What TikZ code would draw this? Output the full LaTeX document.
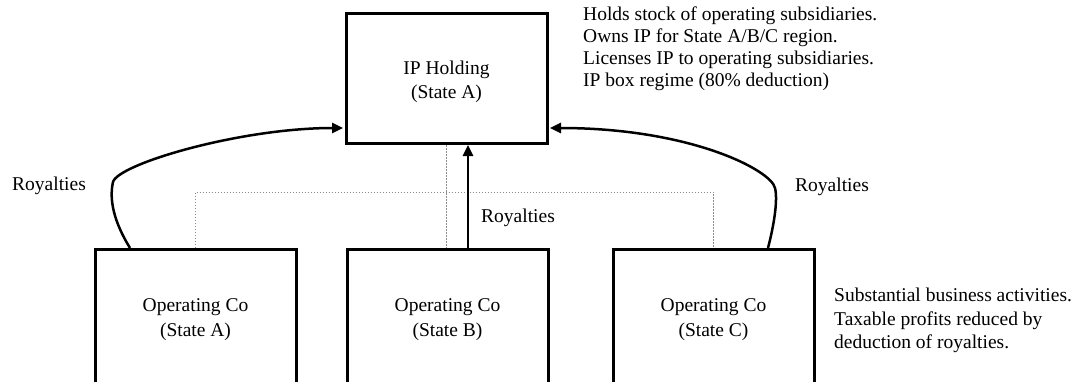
\documentclass[tikz,border=0pt]{standalone}
\usepackage{fontspec}
\setmainfont{Liberation Serif}
\usetikzlibrary{arrows.meta}
\begin{document}
\begin{tikzpicture}[x=1pt,y=-1pt,
  box/.style={draw, line width=3pt, minimum width=201pt, inner sep=0pt},
  topbox/.style={box, minimum height=130pt},
  opbox/.style={box, minimum height=137.5pt},
  boxtext/.style={inner sep=0pt, align=center, font=\fontsize{19.5}{24.5}\selectfont},
  note/.style={inner sep=0pt, align=left, font=\fontsize{19.5}{21.7}\selectfont},
  lbl/.style={inner sep=0pt, font=\fontsize{19.5}{21}\selectfont},
  arr/.style={line width=2.5pt, -{Triangle[length=11pt,width=10pt]}},
  dot/.style={draw=black!45, line width=0.8pt, dash pattern=on 1.5pt off 1.5pt}
]
\useasboundingbox (0,0) rectangle (1076,381);
\clip (0,0) rectangle (1076,381);

\node[topbox] (top) at (446.5,78.5) {};
\node[opbox] (A) at (195.5,318.25) {};
\node[opbox] (B) at (447.5,318.25) {};
\node[opbox] (C) at (713.5,318.25) {};

\node[boxtext] (topt) at ([yshift=-3.5pt]top.center) {IP Holding\\(State A)};
\node[boxtext] (At) at ([yshift=-1.5pt]A.center) {Operating Co\\(State A)};
\node[boxtext] (Bt) at ([yshift=-1.5pt]B.center) {Operating Co\\(State B)};
\node[boxtext] (Ct) at ([yshift=-1.5pt]C.center) {Operating Co\\(State C)};

\coordinate (bus) at (0,192);
\draw[dot] (A.north) -- (A.north |- bus) -- (C.north |- bus) -- (C.north);
\draw[dot] (top.south) -- (top.south |- B.north);

\draw[arr] ([xshift=20.5pt]B.north) -- ([xshift=20.5pt]B.north |- top.south);
\draw[arr] ([xshift=-65.5pt]A.north) .. controls (114,222) and (109,200) .. (113,182)
  .. controls (118,164) and (240,128) .. ([xshift=-1.5pt,yshift=-49.5pt]top.west);
\draw[arr] ([xshift=54.5pt]C.north) .. controls (774,225) and (778,200) .. (775,188)
  .. controls (771,170) and (690,128) .. ([xshift=1.5pt,yshift=-49.5pt]top.east);

\node[lbl, anchor=base west] (rl) at (12,190) {Royalties};
\node[lbl, anchor=base west] (rr) at (795,191) {Royalties};
\node[lbl, anchor=base west] (rm) at (481,222) {Royalties};

\node[note, anchor=north west] (n1) at (583,7) {Holds stock of operating subsidiaries.\\Owns IP for State A/B/C region.\\Licenses IP to operating subsidiaries.\\IP box regime (80\% deduction)};
\node[note, anchor=north west, font=\fontsize{19.5}{23.5}\selectfont] (n2) at (834,288) {Substantial business activities.\\Taxable profits reduced by\\deduction of royalties.};
\end{tikzpicture}
\end{document}
